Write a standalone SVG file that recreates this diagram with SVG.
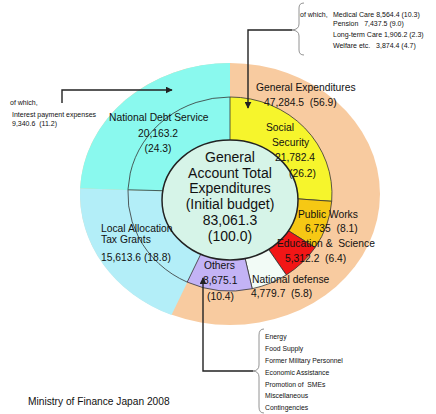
<svg xmlns="http://www.w3.org/2000/svg" width="436" height="414" viewBox="0 0 436 414">
<defs>
<style>
text{font-family:"Liberation Sans",Arial,sans-serif;fill:#111}
.lbl{font-size:10.3px}
.ctr{font-size:14px;text-anchor:middle}
.sm{font-size:7px}
.xs{font-size:6.8px}
.seg{stroke:#333;stroke-width:0.8}
.ln{fill:none;stroke:#222;stroke-width:1.4}
.br{fill:none;stroke:#777;stroke-width:0.8}
</style>
<marker id="ah" viewBox="0 0 10 10" refX="9" refY="5" markerWidth="7" markerHeight="7" markerUnits="userSpaceOnUse" orient="auto">
<path d="M0,0 L10,5 L0,10 Z" fill="#222"/>
</marker>
</defs>
<rect width="436" height="414" fill="#fff"/>

<g id="outer-ring">
<ellipse cx="230" cy="194" rx="150" ry="131" fill="#f8cba0"/>
<path d="M230,194 L171.5,315 A150,131 0 0 1 80.1,188.3 Z" fill="#b3eef8"/>
<path d="M230,194 L80.1,188.3 A150,131 0 0 1 230,63 Z" fill="#8af9ee"/>
</g>

<g id="middle-ring">
<path class="seg" d="M230,194 L230,97 A102,97 0 0 1 331.7,201.3 Z" fill="#f6f52c"/>
<path class="seg" d="M230,194 L331.7,201.3 A102,97 0 0 1 315.1,247.5 Z" fill="#f6c814"/>
<path class="seg" d="M230,194 L315.1,247.5 A102,97 0 0 1 286.3,274.9 Z" fill="#f21616"/>
<path class="seg" d="M230,194 L286.3,274.9 A102,97 0 0 1 252.2,288.7 Z" fill="#f2fbf6"/>
<path class="seg" d="M230,194 L252.2,288.7 A102,97 0 0 1 187.2,282.1 Z" fill="#c3b3f5"/>
<path d="M187.2,282.1 A102,97 0 0 1 230,97" fill="none" stroke="#333" stroke-width="0.8"/>
<line x1="128.1" y1="189.8" x2="175" y2="191" stroke="#333" stroke-width="0.8"/>
</g>

<g id="center">
<ellipse cx="230" cy="200" rx="68" ry="60" fill="#d6f4e8" stroke="#222" stroke-width="1.5"/>
<text class="ctr" x="230" y="162">General</text>
<text class="ctr" x="230" y="177.5">Account Total</text>
<text class="ctr" x="230" y="193">Expenditures</text>
<text class="ctr" x="230" y="209">(Initial budget)</text>
<text class="ctr" x="230" y="225">83,061.3</text>
<text class="ctr" x="230" y="241">(100.0)</text>
</g>

<g id="national-debt">
<text class="lbl" x="109" y="121">National Debt Service</text>
<text class="lbl" x="158" y="137" text-anchor="middle">20,163.2</text>
<text class="lbl" x="158" y="152" text-anchor="middle">(24.3)</text>
</g>
<g id="general-expenditures">
<text class="lbl" x="256" y="90.5">General Expenditures</text>
<text class="lbl" x="264" y="105.5" xml:space="preserve">47,284.5  (56.9)</text>
</g>
<g id="social-security">
<text class="lbl" x="266" y="130.5">Social</text>
<text class="lbl" x="272" y="145.5">Security</text>
<text class="lbl" x="275" y="160.5">21,782.4</text>
<text class="lbl" x="289" y="176.5">(26.2)</text>
</g>
<g id="public-works">
<text class="lbl" x="298" y="218">Public Works</text>
<text class="lbl" x="305" y="232" xml:space="preserve">6,735  (8.1)</text>
</g>
<g id="education">
<text class="lbl" x="277" y="247" xml:space="preserve">Education &amp;  Science</text>
<text class="lbl" x="285" y="262" xml:space="preserve">5,312.2  (6.4)</text>
</g>
<g id="national-defense">
<text class="lbl" x="252" y="282.5">National defense</text>
<text class="lbl" x="251" y="297" xml:space="preserve">4,779.7  (5.8)</text>
</g>
<g id="others">
<text class="lbl" x="204" y="268.5">Others</text>
<text class="lbl" x="203" y="283.5">8,675.1</text>
<text class="lbl" x="207" y="299.5">(10.4)</text>
</g>
<g id="local-allocation">
<text class="lbl" x="101" y="231.5">Local Allocation</text>
<text class="lbl" x="101" y="242.5">Tax Grants</text>
<text class="lbl" x="101" y="260.5">15,613.6 (18.8)</text>
</g>

<g id="note-social">
<text class="sm" x="300" y="16.5">of which,</text>
<text class="sm" x="333" y="16.5">Medical Care 8,564.4 (10.3)</text>
<text class="sm" x="333" y="25.5" xml:space="preserve">Pension   7,437.5 (9.0)</text>
<text class="sm" x="333" y="36.5">Long-term Care 1,906.2 (2.3)</text>
<text class="sm" x="333" y="47.5" xml:space="preserve">Welfare etc.   3,874.4 (4.7)</text>
</g>
<g id="note-debt">
<text class="sm" x="10" y="105">of which,</text>
<text class="sm" x="12" y="117">Interest payment expenses</text>
<text class="sm" x="12" y="126" xml:space="preserve">9,340.6  (11.2)</text>
</g>
<g id="note-others">
<text class="xs" x="265" y="338.5">Energy</text>
<text class="xs" x="265" y="351">Food Supply</text>
<text class="xs" x="265" y="363">Former Military Personnel</text>
<text class="xs" x="265" y="375">Economic Assistance</text>
<text class="xs" x="265" y="386.5" xml:space="preserve">Promotion of  SMEs</text>
<text class="xs" x="265" y="398">Miscellaneous</text>
<text class="xs" x="265" y="410">Contingencies</text>
</g>
<g id="source">
<text x="28" y="405" style="font-size:10.2px">Ministry of Finance Japan 2008</text>
</g>

<g id="connectors">
<path class="br" d="M304,3 Q299,3 299,8 V24 Q299,29.5 292,30 Q299,30.5 299,36 V50 Q299,55 304,55"/>
<path class="br" d="M264,329 Q259,329 259,335 V365 Q259,370.5 253,371 Q259,371.5 259,377 V407 Q259,413 264,413"/>
<path class="ln" d="M292,30 H248 V108" marker-end="url(#ah)"/>
<path class="ln" d="M62,103 V90 H172" marker-end="url(#ah)"/>
<path class="ln" d="M253,371 H203 V278" marker-end="url(#ah)"/>
</g>
</svg>
